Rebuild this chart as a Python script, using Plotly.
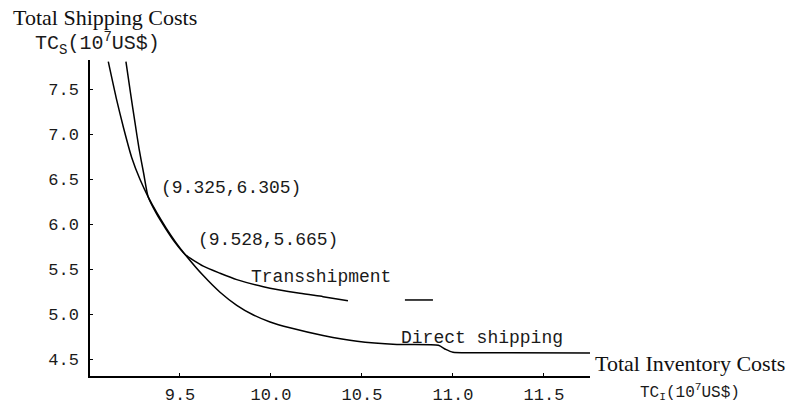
import plotly.graph_objects as go

# Trade-off curves: total inventory cost (x) vs total shipping cost (y), both in 10^7 US$
direct_x = [9.106, 9.150, 9.190, 9.235, 9.280, 9.325, 9.375, 9.425, 9.475, 9.528,
            9.628, 9.720, 9.812, 9.901, 9.995, 10.104, 10.286, 10.473, 10.692,
            10.920, 10.960, 11.000, 11.100, 11.753]
direct_y = [7.807, 7.400, 7.070, 6.740, 6.500, 6.305, 6.120, 5.955, 5.805, 5.665,
            5.430, 5.245, 5.100, 4.995, 4.915, 4.850, 4.765, 4.700, 4.665,
            4.655, 4.610, 4.578, 4.572, 4.570]

trans_x = [9.203, 9.228, 9.253, 9.275, 9.300, 9.325, 9.370, 9.420, 9.470, 9.528,
           9.628, 9.720, 9.812, 9.958, 10.159, 10.286, 10.423, None, 10.736, 10.890]
trans_y = [7.807, 7.460, 7.126, 6.840, 6.570, 6.305, 6.120, 5.955, 5.805, 5.665,
           5.535, 5.456, 5.385, 5.307, 5.233, 5.196, 5.151, None, 5.159, 5.159]

x_ticks = [9.5, 10.0, 10.5, 11.0, 11.5]
y_ticks = [4.5, 5.0, 5.5, 6.0, 6.5, 7.0, 7.5]

# Labelled intersection points of the two curves
cross_points = [(9.325, 6.305), (9.528, 5.665)]

mono = "Liberation Mono"
serif = "Liberation Serif"
ink = "#1a1a1a"

fig = go.Figure()
fig.add_trace(go.Scatter(x=direct_x, y=direct_y, mode="lines", name="Direct shipping",
                         line=dict(color="black", width=1.5, shape="spline", smoothing=0.6)))
fig.add_trace(go.Scatter(x=trans_x, y=trans_y, mode="lines", name="Transshipment",
                         connectgaps=False,
                         line=dict(color="black", width=1.5, shape="spline", smoothing=0.6)))

axis_common = dict(showline=True, linecolor="black", linewidth=1.5, showgrid=False,
                   zeroline=False, ticks="inside", ticklen=3, tickcolor="black",
                   automargin=False, tickformat=".1f",
                   tickfont=dict(family=mono, size=17, color=ink))

fig.update_xaxes(range=[9.0055, 11.753], tickvals=x_ticks, ticklabelstandoff=2, **axis_common)
fig.update_yaxes(range=[4.314, 7.826], tickvals=y_ticks, ticklabelstandoff=6, **axis_common)

annotations = []
label_offsets = [(0.062, 0.095), (0.062, 0.161)]
for (px, py), (dx, dy) in zip(cross_points, label_offsets):
    annotations.append(dict(x=px + dx, y=py + dy, xref="x", yref="y",
                            text=f"({px:.3f},{py:.3f})", showarrow=False,
                            xanchor="left", yanchor="middle",
                            font=dict(family=mono, size=18, color=ink)))

annotations += [
    dict(x=9.880, y=5.415, xref="x", yref="y", text="Transshipment", showarrow=False,
         xanchor="left", yanchor="middle", font=dict(family=mono, size=18, color=ink)),
    dict(x=10.705, y=4.737, xref="x", yref="y", text="Direct shipping", showarrow=False,
         xanchor="left", yanchor="middle", font=dict(family=mono, size=18, color=ink)),
    dict(x=-0.158, y=1.136, xref="paper", yref="paper", text="Total Shipping Costs",
         showarrow=False, xanchor="left", yanchor="middle",
         font=dict(family=serif, size=22, color="#111")),
    dict(x=-0.114, y=1.051, xref="paper", yref="paper",
         text="TC<sub>S</sub>(10<sup>7</sup>US$)", showarrow=False,
         xanchor="left", yanchor="middle", font=dict(family=mono, size=20, color=ink)),
    dict(x=1.006, y=0.040, xref="paper", yref="paper", text="Total Inventory Costs",
         showarrow=False, xanchor="left", yanchor="middle",
         font=dict(family=serif, size=22, color="#111")),
    dict(x=1.096, y=-0.050, xref="paper", yref="paper",
         text="TC<sub>I</sub>(10<sup>7</sup>US$)", showarrow=False,
         xanchor="left", yanchor="middle", font=dict(family=mono, size=16, color=ink)),
]

fig.update_layout(width=793, height=410, margin=dict(l=90, r=203, t=60, b=34),
                  paper_bgcolor="white", plot_bgcolor="white", showlegend=False,
                  annotations=annotations)

fig.write_html("out.html")
